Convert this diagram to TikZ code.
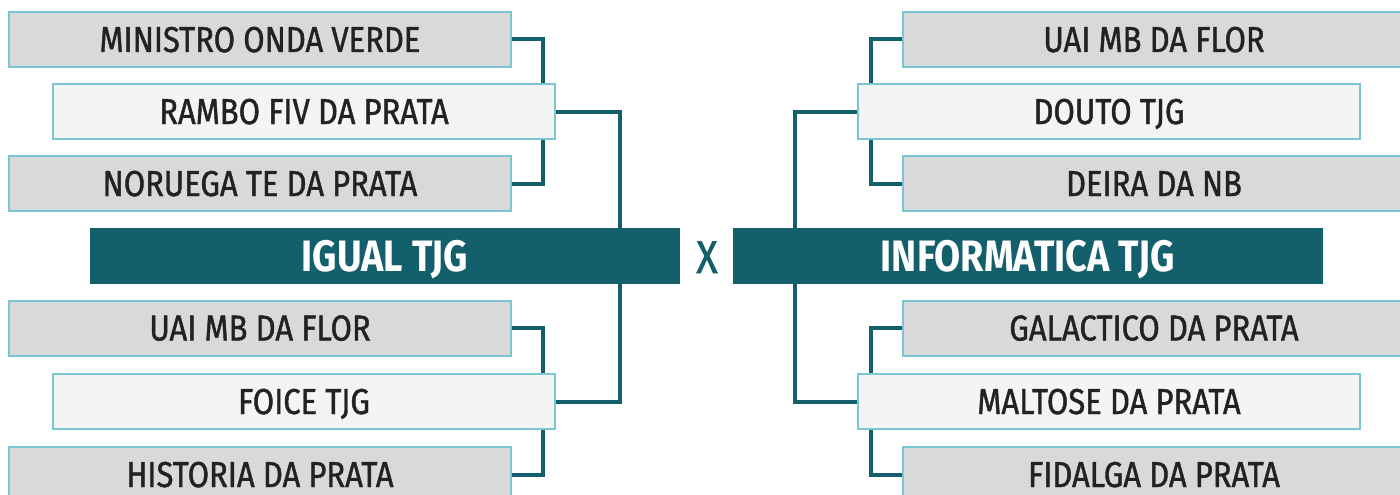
\documentclass[tikz,border=0pt]{standalone}
\usepackage{fontspec}
\setmainfont{Fira Sans}[FakeStretch=0.86]
\newfontfamily\boxfont{Fira Sans}[FakeStretch=0.86, FakeBold=1.2]
\usetikzlibrary{positioning,backgrounds}
\definecolor{tealdark}{HTML}{135F6B}
\definecolor{edgecyan}{HTML}{7AC7D3}
\definecolor{boxgrey}{HTML}{D9D9D9}
\definecolor{boxlight}{HTML}{F4F4F4}
\definecolor{inkgrey}{HTML}{222222}
\begin{document}
\begin{tikzpicture}
[
    x=1pt, y=-1pt,
    greybox/.style={draw=edgecyan, line width=2pt, fill=boxgrey, minimum width=502pt, minimum height=55pt, inner sep=0pt, text height=25pt, text depth=0pt, text=inkgrey, font=\fontsize{36}{36}\boxfont},
    lightbox/.style={greybox, fill=boxlight},
    teambar/.style={fill=tealdark, minimum width=590pt, minimum height=56pt, inner sep=0pt, text height=30pt, text depth=0pt, text=white, font=\fontsize{44}{44}\selectfont\bfseries},
    link/.style={draw=tealdark, line width=4pt}
]
    \useasboundingbox (0,0) rectangle (1400,495);

    % left side
    \node [greybox] (l1) at (260,39.5) {MINISTRO ONDA VERDE};
    \node [lightbox] (l2) at (304,111.5) {RAMBO FIV DA PRATA};
    \node [greybox] (l3) at (260,183.5) {NORUEGA TE DA PRATA};
    \node [teambar] (igual) at (385,256) {IGUAL TJG};
    \node [greybox] (l4) at (260,328) {UAI MB DA FLOR};
    \node [lightbox] (l5) at (304,401.5) {FOICE TJG};
    \node [greybox] (l6) at (260,474.5) {HISTORIA DA PRATA};

    \node [text=tealdark, text height=32pt, text depth=0pt, font=\fontsize{46}{46}\boxfont] (vs) at (707,257) {X};

    % right side
    \node [greybox] (r1) at (1154,39.5) {UAI MB DA FLOR};
    \node [lightbox] (r2) at (1109,111.5) {DOUTO TJG};
    \node [greybox] (r3) at (1154,183.5) {DEIRA DA NB};
    \node [teambar] (inform) at (1028,256) {INFORMATICA TJG};
    \node [greybox] (r4) at (1154,328) {GALACTICO DA PRATA};
    \node [lightbox] (r5) at (1109,401.5) {MALTOSE DA PRATA};
    \node [greybox] (r6) at (1154,474.5) {FIDALGA DA PRATA};

    \begin{pgfonlayer}{background}
        \draw [link] (l1.east) -- ++(31,0) |- (l3.east);
        \draw [link] (l4.east) -- ++(31,0) |- (l6.east);
        \draw [link] (l2.east) -| ([xshift=-60pt]igual.north east);
        \draw [link] ([xshift=-60pt]igual.south east) |- (l5.east);

        \draw [link] (r1.west) -- ++(-31,0) |- (r3.west);
        \draw [link] (r4.west) -- ++(-31,0) |- (r6.west);
        \draw [link] (r2.west) -| ([xshift=62pt]inform.north west);
        \draw [link] ([xshift=62pt]inform.south west) |- (r5.west);
    \end{pgfonlayer}
\end{tikzpicture}
\end{document}
